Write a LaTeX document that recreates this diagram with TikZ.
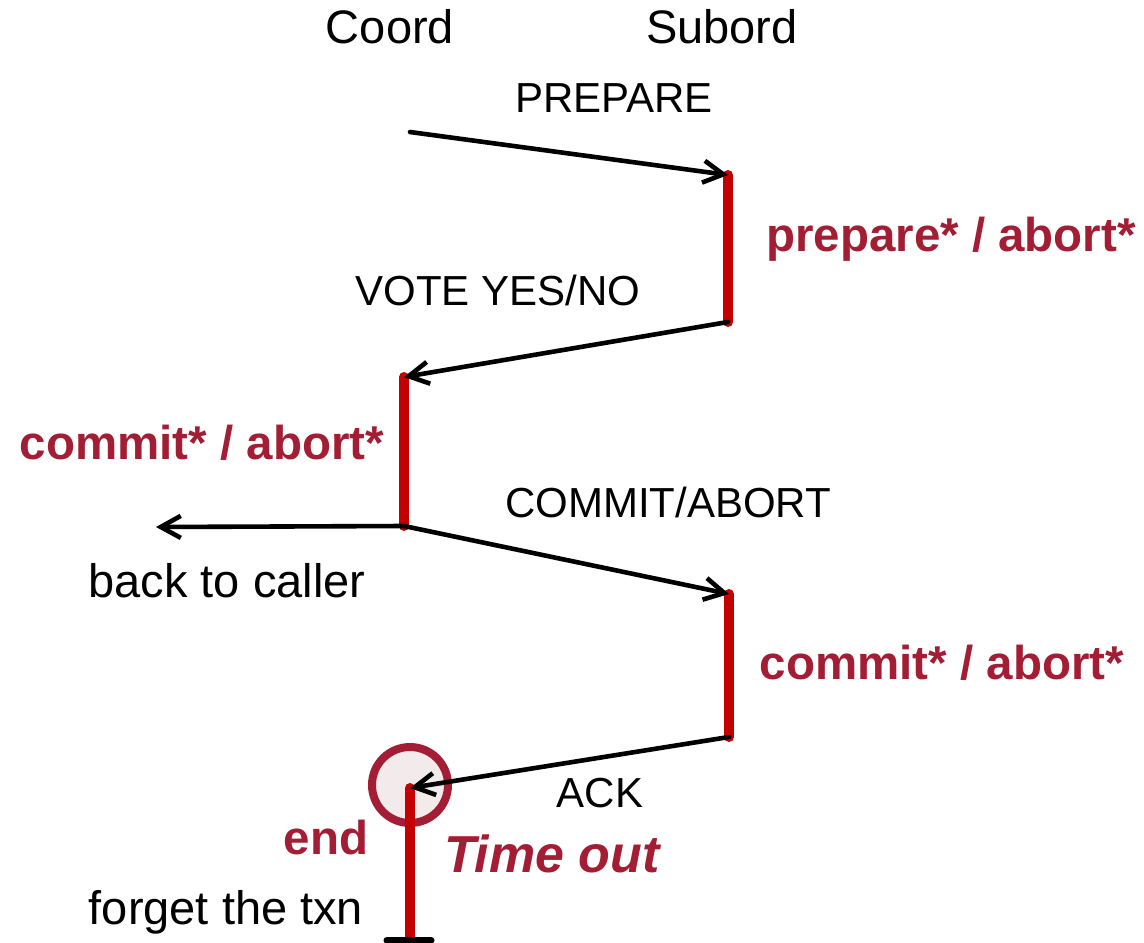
\documentclass[tikz,border=0pt]{standalone}
\usepackage{fontspec}
\setmainfont{Liberation Sans}
\usetikzlibrary{arrows.meta}
\definecolor{crimson}{RGB}{163,29,52}
\definecolor{barred}{RGB}{196,0,0}
\definecolor{pinkfill}{RGB}{243,234,236}
\begin{document}
\begin{tikzpicture}[x=1pt,y=-1pt,
  msg/.style={draw=black,line width=4.6pt,line cap=round,
    -{Straight Barb[length=20pt,width=22pt,line width=4.6pt]}},
  phase/.style={draw=barred,line width=10pt,line cap=round},
  lbl/.style={inner sep=0pt,font=\fontsize{42}{50}\selectfont},
  big/.style={inner sep=0pt,font=\fontsize{47}{56}\selectfont},
  state/.style={inner sep=0pt,text=crimson,font=\fontsize{47.5}{56}\selectfont\bfseries}]
\useasboundingbox (0,0) rectangle (1144,943);

% party headers
\node[big] (coord) at (390,27) {Coord};
\node[big] (subord) at (722,27) {Subord};

% message end points
\coordinate (c0) at (410,132);
\coordinate (s1) at (728,175);
\coordinate (s1b) at (728,322);
\coordinate (c1) at (404,377);
\coordinate (c1b) at (404,526);
\coordinate (back) at (156,527);
\coordinate (s2) at (729,594);
\coordinate (s2b) at (729,737);
\coordinate (c2) at (410,788);
\coordinate (c2b) at (410,937);

% timeout circle on the coordinator
\node[circle,draw=crimson,fill=pinkfill,line width=8pt,minimum size=76pt,inner sep=0pt]
  (tmo) at (410,785) {};

% log force intervals
\draw[phase] (s1) -- (s1b);
\draw[phase] (c1) -- (c1b);
\draw[phase] (s2) -- (s2b);
\draw[phase] (c2) -- (c2b);
\coordinate (barL) at (387,940);
\coordinate (barR) at (431,940);
\draw[line width=7pt,line cap=round] (barL) -- (barR);

% messages
\draw[msg] (c0) -- (s1);
\draw[msg] (s1b) -- (c1);
\draw[msg] (c1b) -- (back);
\draw[msg] (c1b) -- (s2);
\draw[msg] (s2b) -- (c2);

% message labels
\node[lbl] (prep) at (614,98) {PREPARE};
\node[lbl] (vote) at (498,290) {VOTE YES/NO};
\node[lbl] (comab) at (668,502) {COMMIT/ABORT};
\node[lbl] (ack) at (600,793) {ACK};

% state labels
\node[state] (st1) at (951,239) {prepare* / abort*};
\node[state] (st2) at (202,443) {commit* / abort*};
\node[state] (st3) at (942,663) {commit* / abort*};
\node[state] (st4) at (326,838) {end};
\node[inner sep=0pt,text=crimson,font=\fontsize{52}{60}\selectfont\bfseries\itshape]
  (timeout) at (552,854) {Time out};

\node[big] (caller) at (227,581) {back to caller};
\node[big] (forget) at (226,912) {forget the txn};
\end{tikzpicture}
\end{document}
